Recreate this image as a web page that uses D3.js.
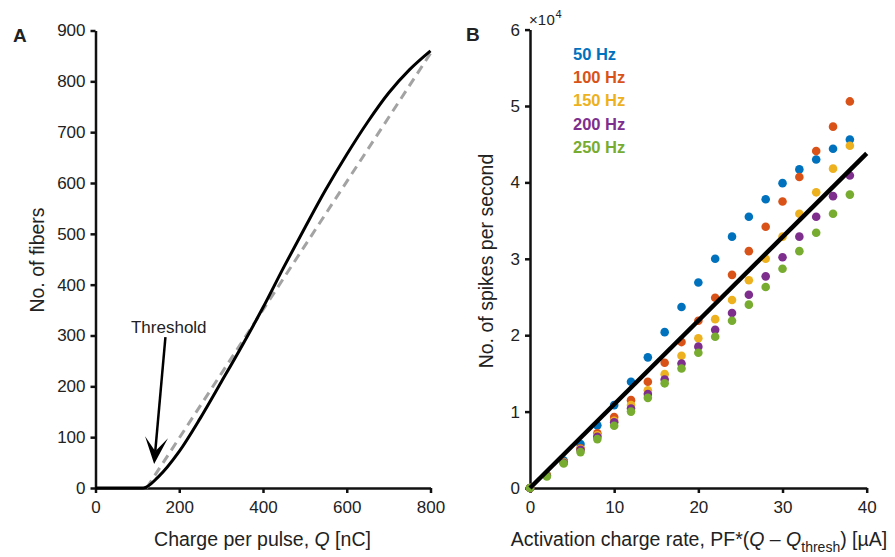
<!DOCTYPE html>
<html>
<head>
<meta charset="utf-8">
<script src="https://cdn.jsdelivr.net/npm/d3@7"></script>
<style>
  body { margin: 0; background: #fff; }
  text { font-family: "Liberation Sans", Arial, sans-serif; fill: #222; }
  .axis path, .axis line { stroke: #111; stroke-width: 2.5px; }
  .axis text { font-size: 17px; fill: #222; }
</style>
</head>
<body>
<div class="chart"></div>
<script>
// panel A: fibres recruited vs charge per pulse
const chargeQ = [0, 114, 150, 200, 250, 300, 350, 400, 450, 500, 550, 600, 650, 700, 750, 800];
const fiberCount = [0, 0, 22, 72, 137, 208, 280, 355, 435, 512, 587, 656, 720, 777, 823, 860];
const fitQ = [122, 800];
const fitFibers = [0, 855];
const chargeTicks = [0, 200, 400, 600, 800];
const fiberTicks = [0, 100, 200, 300, 400, 500, 600, 700, 800, 900];

// panel B: spikes per second vs activation charge rate
const activationRate = [0, 2, 4, 6, 8, 10, 12, 14, 16, 18, 20, 22, 24, 26, 28, 30, 32, 34, 36, 38];
const freqLabels = ['50 Hz', '100 Hz', '150 Hz', '200 Hz', '250 Hz'];
const spikes50 = [0, 1700, 3600, 5750, 8200, 10850, 13900, 17100, 20400, 23700, 26900, 30000, 32900, 35500, 37800, 39900, 41700, 43000, 44400, 45600];
const spikes100 = [0, 1700, 3400, 5200, 7150, 9300, 11500, 13900, 16400, 19100, 21900, 24900, 27900, 31000, 34200, 37500, 40700, 44100, 47300, 50600];
const spikes150 = [0, 1700, 3400, 5100, 6900, 8800, 10850, 12800, 14900, 17300, 19600, 22100, 24600, 27200, 30000, 32900, 35900, 38700, 41800, 44800];
const spikes200 = [0, 1600, 3300, 5000, 6700, 8600, 10400, 12300, 14200, 16300, 18500, 20700, 22900, 25300, 27700, 30200, 32900, 35500, 38200, 40900];
const spikes250 = [0, 1500, 3200, 4700, 6400, 8150, 10000, 11800, 13700, 15650, 17700, 19800, 21900, 24000, 26300, 28700, 31000, 33400, 35900, 38400];
const fitRate = [0, 40];
const fitSpikes = [0, 43800];
const rateTicks = [0, 10, 20, 30, 40];
const spikeTicks = [0, 10000, 20000, 30000, 40000, 50000, 60000];

const colors = ['#0072BD', '#D95319', '#EDB120', '#7E2F8E', '#77AC30'];
const spikeSeries = [spikes50, spikes100, spikes150, spikes200, spikes250];

const svg = d3.select('.chart')
    .append('svg')
        .attr('width', 895)
        .attr('height', 557);

// ---------- panel A ----------
const xA = d3.scaleLinear().domain([0, 800]).range([95.5, 430.5]);
const yA = d3.scaleLinear().domain([0, 900]).range([488, 30.5]);

svg.append('g')
    .attr('class', 'axis')
    .attr('transform', 'translate(0,488)')
    .call(d3.axisBottom(xA).tickValues(chargeTicks).tickSize(5).tickSizeOuter(0).tickPadding(8));

svg.append('g')
    .attr('class', 'axis')
    .attr('transform', 'translate(95.5,0)')
    .call(d3.axisLeft(yA).tickValues(fiberTicks).tickSize(5).tickSizeOuter(0).tickPadding(5));

svg.append('path')
    .datum(fitQ.map((q, i) => [q, fitFibers[i]]))
    .attr('fill', 'none')
    .attr('stroke', '#a3a3a3')
    .attr('stroke-width', 3)
    .attr('stroke-dasharray', '9,6')
    .attr('d', d3.line().x(d => xA(d[0])).y(d => yA(d[1])));

svg.append('path')
    .datum(chargeQ.map((q, i) => [q, fiberCount[i]]))
    .attr('fill', 'none')
    .attr('stroke', '#000')
    .attr('stroke-width', 3)
    .attr('d', d3.line().curve(d3.curveMonotoneX).x(d => xA(d[0])).y(d => yA(d[1])));

// threshold arrow
const arrowFrom = [167, 297];
const arrowTo = [140, 47];
const p0 = [xA(arrowFrom[0]), yA(arrowFrom[1])];
const p1 = [xA(arrowTo[0]), yA(arrowTo[1])];
const len = Math.hypot(p1[0] - p0[0], p1[1] - p0[1]);
const ux = (p1[0] - p0[0]) / len, uy = (p1[1] - p0[1]) / len;
const headLen = 27, headHalf = 11.5, notch = 13;
svg.append('line')
    .attr('x1', p0[0]).attr('y1', p0[1])
    .attr('x2', p1[0] - ux * notch).attr('y2', p1[1] - uy * notch)
    .attr('stroke', '#000')
    .attr('stroke-width', 2.5);
svg.append('path')
    .attr('fill', '#000')
    .attr('d', `M${p1[0]},${p1[1]}
        L${p1[0] - ux * headLen - uy * headHalf},${p1[1] - uy * headLen + ux * headHalf}
        L${p1[0] - ux * notch},${p1[1] - uy * notch}
        L${p1[0] - ux * headLen + uy * headHalf},${p1[1] - uy * headLen - ux * headHalf}Z`);

svg.append('text')
    .attr('x', xA(175))
    .attr('y', yA(304))
    .attr('text-anchor', 'middle')
    .style('font-size', '17px')
    .text('Threshold');

svg.append('text')
    .attr('x', 262.5)
    .attr('y', 546)
    .attr('text-anchor', 'middle')
    .style('font-size', '19.5px')
    .html('Charge per pulse, <tspan font-style="italic">Q</tspan> [nC]');

svg.append('text')
    .attr('transform', 'translate(44,260) rotate(-90)')
    .attr('text-anchor', 'middle')
    .style('font-size', '19.5px')
    .text('No. of fibers');

svg.append('text')
    .attr('x', 13)
    .attr('y', 42)
    .style('font-size', '19px')
    .style('font-weight', 'bold')
    .text('A');

// ---------- panel B ----------
const xB = d3.scaleLinear().domain([0, 40]).range([530, 866.7]);
const yB = d3.scaleLinear().domain([0, 60000]).range([488, 29.6]);

svg.append('g')
    .attr('class', 'axis')
    .attr('transform', 'translate(0,488)')
    .call(d3.axisBottom(xB).tickValues(rateTicks).tickSize(5).tickSizeOuter(0).tickPadding(8));

svg.append('g')
    .attr('class', 'axis')
    .attr('transform', 'translate(530,0)')
    .call(d3.axisLeft(yB).tickValues(spikeTicks).tickFormat(d => d / 10000).tickSize(5).tickSizeOuter(0).tickPadding(5));

spikeSeries.forEach((series, k) => {
    svg.append('g')
        .selectAll('circle')
        .data(series)
        .enter()
        .append('circle')
            .attr('cx', (d, i) => xB(activationRate[i]))
            .attr('cy', d => yB(d))
            .attr('r', 4.3)
            .attr('fill', colors[k]);
});

svg.append('path')
    .datum(fitRate.map((r, i) => [r, fitSpikes[i]]))
    .attr('fill', 'none')
    .attr('stroke', '#000')
    .attr('stroke-width', 4.5)
    .attr('d', d3.line().x(d => xB(d[0])).y(d => yB(d[1])));

svg.append('g')
    .selectAll('text')
    .data(freqLabels)
    .enter()
    .append('text')
        .attr('x', 573)
        .attr('y', (d, i) => 60 + i * 23.2)
        .style('font-size', '16.5px')
        .style('font-weight', 'bold')
        .style('fill', (d, i) => colors[i])
        .text(d => d);

svg.append('text')
    .attr('x', 529)
    .attr('y', 25)
    .style('font-size', '15px')
    .html('×<tspan letter-spacing="0.5">10</tspan><tspan dy="-7" font-size="11px">4</tspan>');

svg.append('text')
    .attr('x', 699)
    .attr('y', 546)
    .attr('text-anchor', 'middle')
    .style('font-size', '19.5px')
    .html('Activation charge rate, PF*(<tspan font-style="italic">Q</tspan> – <tspan font-style="italic">Q</tspan><tspan dy="6" font-size="14px">thresh</tspan><tspan dy="-6">) [µA]</tspan>');

svg.append('text')
    .attr('transform', 'translate(493,261) rotate(-90)')
    .attr('text-anchor', 'middle')
    .style('font-size', '19.5px')
    .text('No. of spikes per second');

svg.append('text')
    .attr('x', 466)
    .attr('y', 41)
    .style('font-size', '19px')
    .style('font-weight', 'bold')
    .text('B');
</script>
</body>
</html>
